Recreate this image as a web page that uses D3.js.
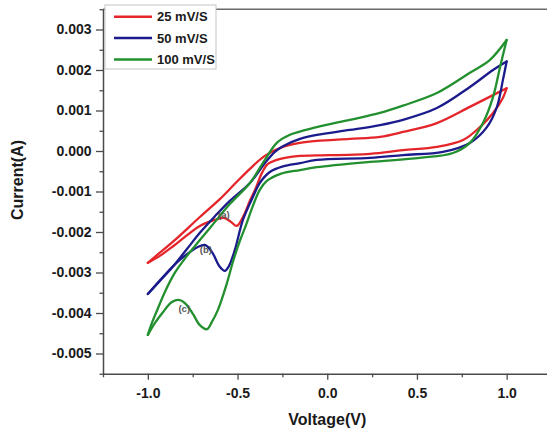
<!DOCTYPE html>
<html>
<head>
<meta charset="utf-8">
<script src="https://cdn.jsdelivr.net/npm/d3@7"></script>
<style>
  body { margin: 0; background: #fff; }
  svg { display: block; }
  text { font-family: "Liberation Sans", Arial, Helvetica, sans-serif; font-weight: bold; fill: #1a1a1a; }
</style>
</head>
<body>
<svg id="chart" width="547" height="431"></svg>
<script>
// Cyclic voltammograms at three scan rates: potential (V) vs current (A).
const scanRates = ["25 mV/S", "50 mV/S", "100 mV/S"];

// Forward (anodic) sweep, -1.0 V -> +1.0 V
const scan25Forward = [
  [-1.000,-0.00276],[-0.933,-0.00251],[-0.850,-0.00220],[-0.710,-0.00163],[-0.599,-0.00119],
  [-0.515,-0.00081],[-0.431,-0.00044],[-0.348,-0.00012],[-0.247,0.00010],[-0.152,0.00020],
  [-0.058,0.00025],[0.126,0.00030],[0.294,0.00035],[0.422,0.00047],[0.611,0.00069],
  [0.795,0.00109],[0.924,0.00138],[1.000,0.00155]
];
// Reverse (cathodic) sweep, +1.0 V -> -1.0 V
const scan25Reverse = [
  [1.000,0.00155],[0.979,0.00131],[0.924,0.00094],[0.851,0.00059],[0.757,0.00027],
  [0.611,0.00010],[0.422,0.00002],[0.238,-0.00007],[-0.058,-0.00011],[-0.152,-0.00012],
  [-0.236,-0.00017],[-0.281,-0.00022],[-0.331,-0.00032],[-0.364,-0.00054],[-0.398,-0.00091],
  [-0.431,-0.00123],[-0.470,-0.00163],[-0.504,-0.00185],[-0.537,-0.00175],[-0.576,-0.00165],
  [-0.626,-0.00170],[-0.710,-0.00185],[-0.850,-0.00232],[-0.933,-0.00259],[-1.000,-0.00276]
];

const scan50Forward = [
  [-1.000,-0.00353],[-0.933,-0.00321],[-0.861,-0.00286],[-0.782,-0.00242],[-0.710,-0.00202],
  [-0.626,-0.00161],[-0.543,-0.00123],[-0.431,-0.00079],[-0.348,-0.00030],[-0.292,-0.00002],
  [-0.247,0.00012],[-0.152,0.00030],[-0.058,0.00040],[0.126,0.00052],[0.294,0.00064],
  [0.422,0.00077],[0.611,0.00106],[0.795,0.00158],[0.924,0.00200],[1.000,0.00221]
];
const scan50Reverse = [
  [1.000,0.00221],[0.979,0.00175],[0.946,0.00109],[0.890,0.00059],[0.795,0.00020],
  [0.645,-0.00002],[0.422,-0.00010],[0.238,-0.00017],[-0.058,-0.00022],[-0.152,-0.00030],
  [-0.247,-0.00038],[-0.320,-0.00052],[-0.376,-0.00079],[-0.415,-0.00114],[-0.470,-0.00170],
  [-0.515,-0.00244],[-0.548,-0.00284],[-0.571,-0.00296],[-0.599,-0.00286],[-0.643,-0.00249],
  [-0.682,-0.00232],[-0.721,-0.00237],[-0.822,-0.00269],[-0.916,-0.00311],[-1.000,-0.00353]
];

const scan100Forward = [
  [-1.000,-0.00454],[-0.978,-0.00425],[-0.950,-0.00395],[-0.905,-0.00348],[-0.850,-0.00301],
  [-0.782,-0.00259],[-0.710,-0.00220],[-0.626,-0.00175],[-0.543,-0.00131],[-0.431,-0.00079],
  [-0.359,-0.00030],[-0.281,0.00020],[-0.208,0.00040],[-0.058,0.00059],[0.126,0.00077],
  [0.294,0.00094],[0.422,0.00112],[0.611,0.00143],[0.795,0.00193],[0.907,0.00225],[1.000,0.00274]
];
const scan100Reverse = [
  [1.000,0.00274],[0.963,0.00207],[0.924,0.00133],[0.868,0.00069],[0.795,0.00020],
  [0.701,-0.00005],[0.517,-0.00017],[0.238,-0.00027],[-0.058,-0.00040],[-0.152,-0.00047],
  [-0.264,-0.00057],[-0.337,-0.00074],[-0.376,-0.00096],[-0.415,-0.00136],[-0.453,-0.00183],
  [-0.487,-0.00222],[-0.526,-0.00274],[-0.559,-0.00326],[-0.610,-0.00393],[-0.643,-0.00422],
  [-0.671,-0.00440],[-0.710,-0.00430],[-0.749,-0.00402],[-0.788,-0.00378],[-0.822,-0.00368],
  [-0.866,-0.00373],[-0.916,-0.00398],[-0.961,-0.00425],[-1.000,-0.00454]
];

// Reduction-peak annotations: text, potential, current
const peakLabels = [["(a)", -0.576, -0.00156], ["(b)", -0.677, -0.00244], ["(c)", -0.797, -0.00388]];

const xTickValues = [-1.0, -0.5, 0.0, 0.5, 1.0];
const xMinorValues = [-1.25, -0.75, -0.25, 0.25, 0.75, 1.25];
const yTickValues = [-0.005, -0.004, -0.003, -0.002, -0.001, 0.000, 0.001, 0.002, 0.003];
const yMinorValues = [-0.0055, -0.0045, -0.0035, -0.0025, -0.0015, -0.0005, 0.0005, 0.0015, 0.0025, 0.0035];

const colors = ["#e4252a", "#1b1b8c", "#22902e"];
const loops = [
  [scan25Forward, scan25Reverse],
  [scan50Forward, scan50Reverse],
  [scan100Forward, scan100Reverse]
];

const svg = d3.select("#chart");
const x = d3.scaleLinear().domain([-1.25, 1.25]).range([103, 551.5]);
const y = d3.scaleLinear().domain([-0.0055, 0.0035]).range([373.75, 9.25]);

const axisColor = "#4a4a4a";

// top frame line
svg.append("line")
  .attr("x1", x(-1.25)).attr("x2", x(1.25))
  .attr("y1", y(0.0035)).attr("y2", y(0.0035))
  .attr("stroke", "#6a6a6a").attr("stroke-width", 1.5);

function styleAxis(g) {
  g.selectAll("path.domain").attr("stroke", axisColor).attr("stroke-width", 1.5);
  g.selectAll(".tick line").attr("stroke", axisColor).attr("stroke-width", 1.3);
}

// x axis
const gx = svg.append("g").attr("transform", `translate(0,${y(-0.0055)})`)
  .call(d3.axisBottom(x).tickValues(xTickValues).tickSize(6).tickSizeOuter(0)
    .tickPadding(8.5).tickFormat(d => d.toFixed(1)));
gx.call(styleAxis);
gx.selectAll("text").attr("font-size", 14).attr("fill", "#1a1a1a")
  .style("font-family", '"Liberation Sans", Arial, sans-serif').style("font-weight", "bold");
const gxm = svg.append("g").attr("transform", `translate(0,${y(-0.0055)})`)
  .call(d3.axisBottom(x).tickValues(xMinorValues).tickSize(3.5).tickSizeOuter(0).tickFormat(""));
gxm.select("path.domain").remove();
gxm.call(styleAxis);

// y axis
const gy = svg.append("g").attr("transform", `translate(${x(-1.25)},0)`)
  .call(d3.axisLeft(y).tickValues(yTickValues).tickSize(7).tickSizeOuter(0)
    .tickPadding(4.5).tickFormat(d => d.toFixed(3)));
gy.call(styleAxis);
gy.selectAll("text").attr("font-size", 14).attr("fill", "#1a1a1a")
  .style("font-family", '"Liberation Sans", Arial, sans-serif').style("font-weight", "bold");
const gym = svg.append("g").attr("transform", `translate(${x(-1.25)},0)`)
  .call(d3.axisLeft(y).tickValues(yMinorValues).tickSize(3.5).tickSizeOuter(0).tickFormat(""));
gym.select("path.domain").remove();
gym.call(styleAxis);

// axis titles
svg.append("text").attr("x", x(0)).attr("y", 425)
  .attr("text-anchor", "middle").attr("font-size", 16).text("Voltage(V)");
svg.append("text").attr("transform", "translate(23,180) rotate(-90)")
  .attr("text-anchor", "middle").attr("font-size", 16).text("Current(A)");

// voltammograms
const line = d3.line()
  .x(d => x(d[0])).y(d => y(d[1]))
  .curve(d3.curveCatmullRom.alpha(0.5));

loops.forEach((sweeps, i) => {
  sweeps.forEach(sweep => {
    svg.append("path")
      .attr("d", line(sweep))
      .attr("fill", "none")
      .attr("stroke", colors[i])
      .attr("stroke-width", 2.3)
      .attr("stroke-linejoin", "round")
      .attr("stroke-linecap", "round");
  });
});

// peak annotations
svg.selectAll("text.peak").data(peakLabels).enter().append("text")
  .attr("class", "peak")
  .attr("x", d => x(d[1])).attr("y", d => y(d[2]) + 3.5)
  .attr("text-anchor", "middle").attr("font-size", 9.5)
  .style("fill", "#555").text(d => d[0]);

// legend
const legend = svg.append("g");
legend.append("rect").attr("x", 105).attr("y", 5).attr("width", 111).attr("height", 64)
  .attr("fill", "#fff").attr("stroke", "#c4c4c4").attr("stroke-width", 1);
scanRates.forEach((name, i) => {
  const ly = 16.7 + i * 21.4;
  legend.append("line").attr("x1", 114).attr("x2", 152).attr("y1", ly).attr("y2", ly)
    .attr("stroke", colors[i]).attr("stroke-width", 2.5);
  legend.append("text").attr("x", 157).attr("y", ly + 4.7)
    .attr("font-size", 13).text(name);
});
</script>
</body>
</html>
